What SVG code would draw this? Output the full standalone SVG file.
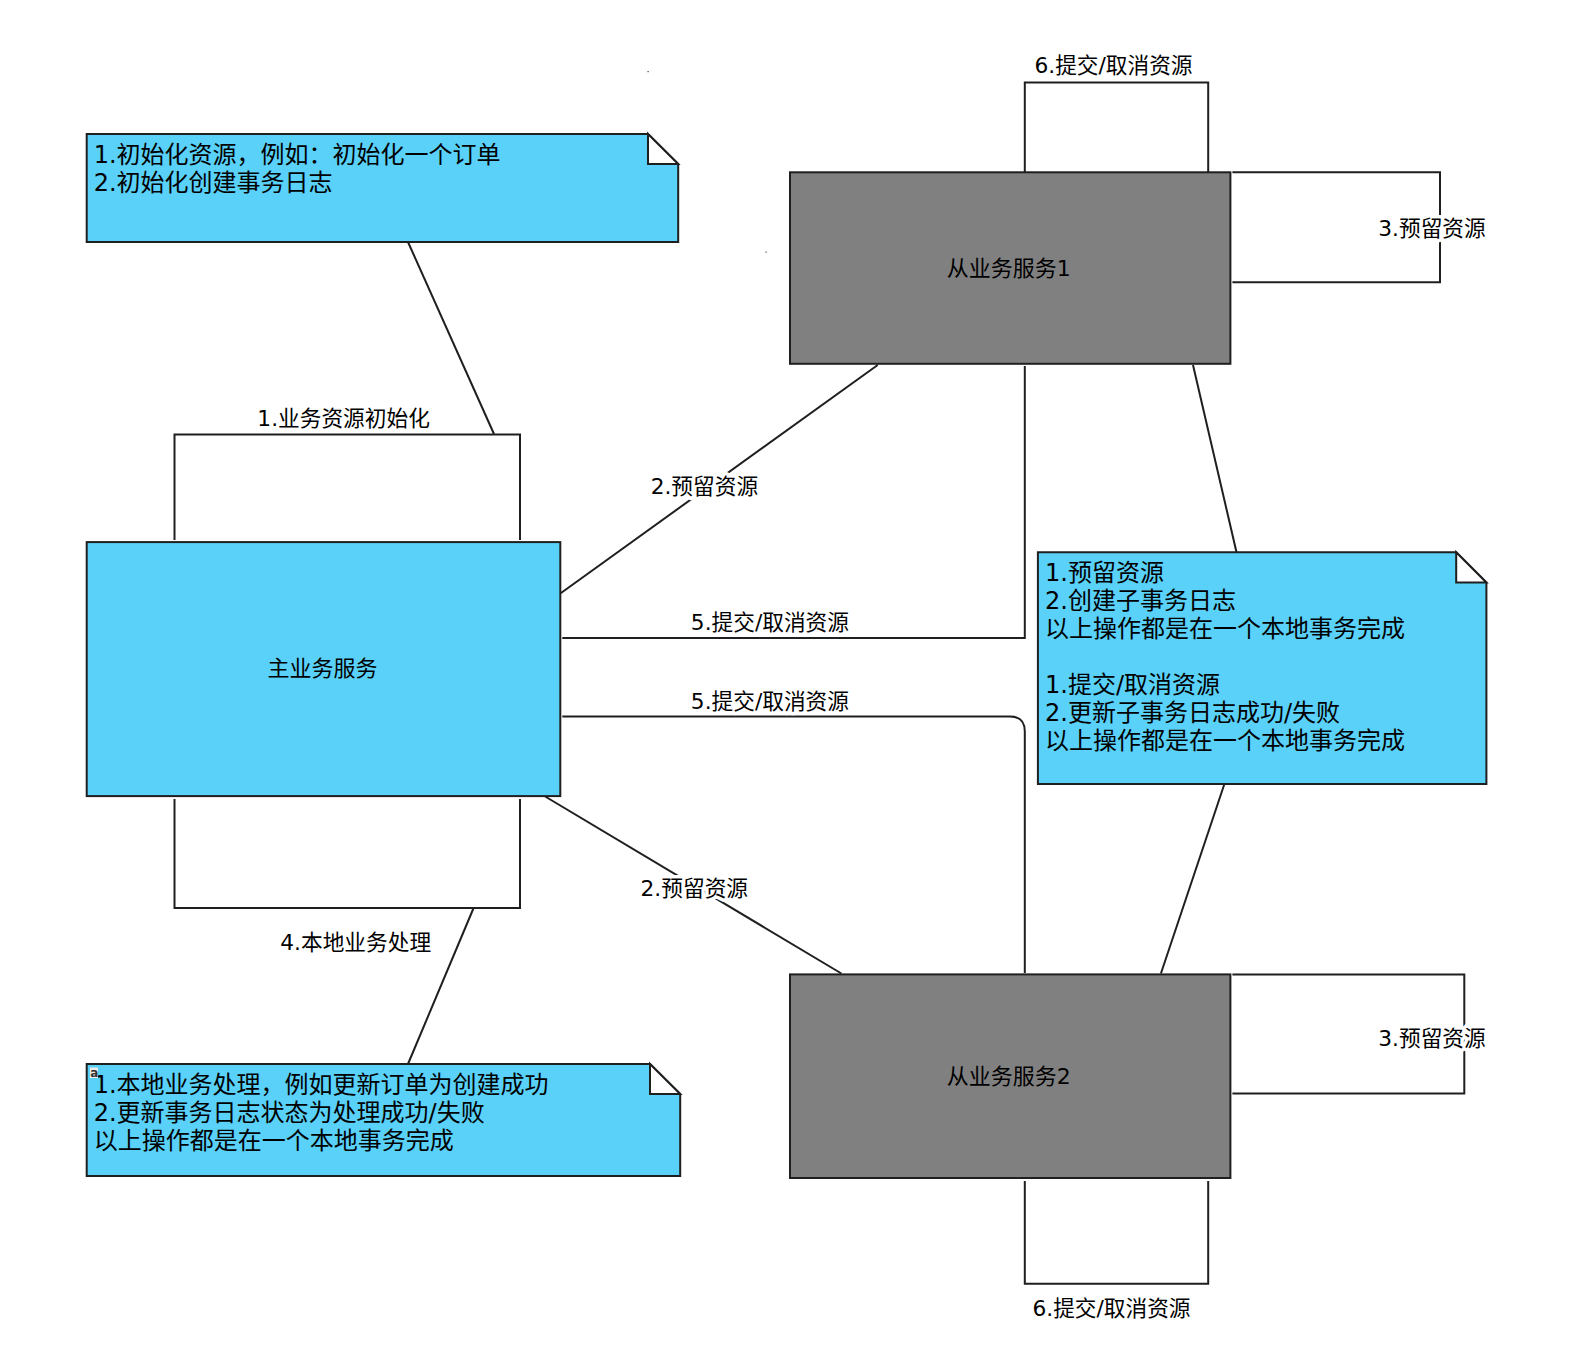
<svg xmlns="http://www.w3.org/2000/svg" width="1580" height="1351" viewBox="0 0 1580 1351">
<style>
.bg{fill:#ffffff}
.blue{fill:#59D1F9;stroke:#1f1f1f;stroke-width:2}
.gray{fill:#808080;stroke:#1f1f1f;stroke-width:2}
.fold{fill:#ffffff;stroke:#1f1f1f;stroke-width:2;stroke-linejoin:miter}
.conn{fill:none;stroke:#1f1f1f;stroke-width:2}
.note{font-family:"DejaVu Sans","Noto Sans CJK SC",sans-serif;font-size:24px;fill:#000}
.name{font-family:"DejaVu Sans","Noto Sans CJK SC",sans-serif;font-size:22px;fill:#000;text-anchor:middle}
.lbl{font-family:"DejaVu Sans","Noto Sans CJK SC",sans-serif;font-size:21.7px;fill:#000;text-anchor:middle;stroke:#fff;stroke-width:7px;paint-order:stroke;stroke-linejoin:round}
</style>
<rect class="bg" x="0" y="0" width="1580" height="1351"/>

<g id="connectors">
  <line class="conn" x1="408" y1="242" x2="494" y2="434"/>
  <polyline class="conn" points="174.5,540 174.5,434.5 520,434.5 520,540"/>
  <polyline class="conn" points="174.5,799 174.5,908 520,908 520,799"/>
  <line class="conn" x1="473.6" y1="908" x2="408" y2="1064"/>
  <line class="conn" x1="877.7" y1="365" x2="560.3" y2="593.5"/>
  <polyline class="conn" points="1024.8,366 1024.8,638 562.3,638"/>
  <path class="conn" d="M562.3,716.5 H1010 Q1024.8,716.5 1024.8,731.5 V973"/>
  <line class="conn" x1="545.2" y1="796.5" x2="841.4" y2="973.5"/>
  <line class="conn" x1="1193" y1="365" x2="1236.5" y2="552.2"/>
  <line class="conn" x1="1224.4" y1="784" x2="1160.9" y2="973.5"/>
  <polyline class="conn" points="1024.8,172.3 1024.8,82.6 1208.2,82.6 1208.2,172.3"/>
  <polyline class="conn" points="1232.4,172.3 1440,172.3 1440,282.2 1232.4,282.2"/>
  <polyline class="conn" points="1232.4,974.4 1464.3,974.4 1464.3,1093.4 1232.4,1093.4"/>
  <polyline class="conn" points="1024.8,1181 1024.8,1283.8 1208.2,1283.8 1208.2,1181"/>

  <text class="lbl" x="343.6" y="426">1.业务资源初始化</text>
  <text class="lbl" x="355.7" y="950">4.本地业务处理</text>
  <text class="lbl" x="704.4" y="494">2.预留资源</text>
  <text class="lbl" x="769.9" y="630">5.提交/取消资源</text>
  <text class="lbl" x="769.9" y="708.5">5.提交/取消资源</text>
  <text class="lbl" x="694.3" y="896">2.预留资源</text>
  <text class="lbl" x="1113.5" y="72.5">6.提交/取消资源</text>
  <text class="lbl" x="1432" y="236">3.预留资源</text>
  <text class="lbl" x="1432" y="1046">3.预留资源</text>
  <text class="lbl" x="1111.5" y="1316">6.提交/取消资源</text>
</g>

<g id="note1">
  <path class="blue" d="M86.7,134 H648 L678.2,164 V242 H86.7 Z"/>
  <path class="fold" d="M648,134 V164 H678.2 Z"/>
  <text class="note" x="93.7" y="163">1.初始化资源，例如：初始化一个订单</text>
  <text class="note" x="93.7" y="191">2.初始化创建事务日志</text>
</g>

<g id="main">
  <rect class="blue" x="86.7" y="542.1" width="473.6" height="254"/>
  <text class="name" x="322.5" y="676">主业务服务</text>
</g>

<g id="note2">
  <path class="blue" d="M86.7,1064 H650 L680.2,1094 V1176 H86.7 Z"/>
  <path class="fold" d="M650,1064 V1094 H680.2 Z"/>
  <text class="note" x="93.7" y="1093">1.本地业务处理，例如更新订单为创建成功</text>
  <text class="note" x="93.7" y="1121">2.更新事务日志状态为处理成功/失败</text>
  <text class="note" x="93.7" y="1149">以上操作都是在一个本地事务完成</text>
  <rect x="90" y="1067.5" width="8" height="10.5" fill="#ececec"/>
  <text x="90.3" y="1077" style="font-family:'DejaVu Sans',sans-serif;font-size:12px;font-weight:bold;fill:#333">a</text>
</g>

<g id="svc1">
  <rect class="gray" x="790" y="172.3" width="440.4" height="191.5"/>
  <text class="name" x="1008.7" y="276">从业务服务1</text>
</g>

<g id="note3">
  <path class="blue" d="M1037.9,552.2 H1456.2 L1486.4,582.5 V784 H1037.9 Z"/>
  <path class="fold" d="M1456.2,552.2 V582.5 H1486.4 Z"/>
  <text class="note" x="1045" y="581">1.预留资源</text>
  <text class="note" x="1045" y="609">2.创建子事务日志</text>
  <text class="note" x="1045" y="637">以上操作都是在一个本地事务完成</text>
  <text class="note" x="1045" y="693">1.提交/取消资源</text>
  <text class="note" x="1045" y="721">2.更新子事务日志成功/失败</text>
  <text class="note" x="1045" y="749">以上操作都是在一个本地事务完成</text>
</g>

<g id="svc2">
  <rect class="gray" x="790" y="974.4" width="440.4" height="203.6"/>
  <text class="name" x="1008.7" y="1084">从业务服务2</text>
</g>

<g id="specks">
  <rect x="647.5" y="71" width="1.2" height="1.2" fill="#444"/>
  <rect x="765.5" y="251.5" width="1.2" height="1.2" fill="#444"/>
</g>
</svg>
